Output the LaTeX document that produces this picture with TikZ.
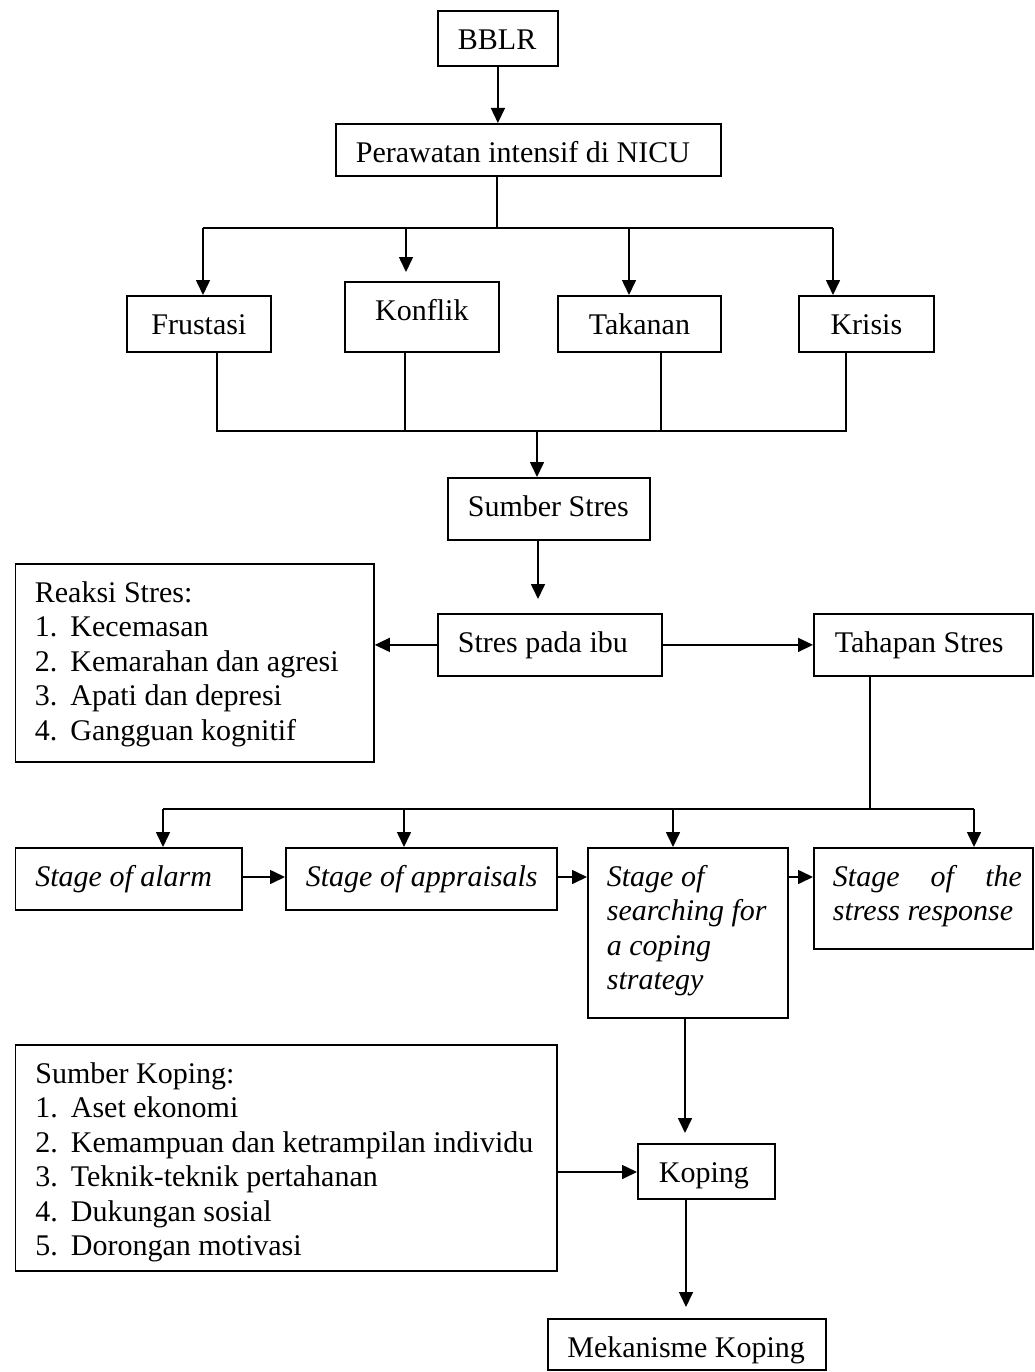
\documentclass[tikz,border=0pt]{standalone}
\usepackage{fontspec}
\setmainfont{Liberation Serif}
\usetikzlibrary{arrows.meta}
\setlength{\parindent}{0pt}
\newcommand{\bt}[4]{\begin{minipage}[t][#2][t]{#1}\setlength{\parindent}{0pt}\leftskip=#3\relax\rightskip=0pt plus 1fil\relax\rule{0pt}{38.5pt}#4\end{minipage}}
\newcommand{\bc}[3]{\begin{minipage}[t][#2][t]{#1}\setlength{\parindent}{0pt}\centering\rule{0pt}{38.5pt}#3\end{minipage}}
\newcommand{\itm}[1]{\makebox[35.5pt][l]{#1}}
\tikzset{
  box/.style={draw, line width=1.8pt, inner sep=0pt, anchor=north west},
  ln/.style={line width=1.6pt},
  arr/.style={line width=1.6pt, -{Triangle[length=15pt,width=14pt]}}
}
\begin{document}
\begin{tikzpicture}[x=1pt,y=-1pt,font=\fontsize{30}{34.5}\selectfont]
\useasboundingbox (0,0) rectangle (1034,1372);
% boxes
\node[box] (BBLR) at (437,10) {\bt{120pt}{55pt}{20pt}{BBLR}};
\node[box] (Per) at (335,123) {\bt{385pt}{52pt}{20pt}{Perawatan intensif di NICU}};
\node[box] (Fru) at (126,295) {\bc{144pt}{56pt}{Frustasi}};
\node[box] (Kon) at (344,281) {\bc{154pt}{70pt}{Konflik}};
\node[box] (Tak) at (557,295) {\bc{163pt}{56pt}{Takanan}};
\node[box] (Kri) at (798,295) {\bc{135pt}{56pt}{Krisis}};
\node[box] (SS) at (447,477) {\bt{202pt}{62pt}{20pt}{Sumber Stres}};
\node[box] (Rea) at (14.5,563) {\bt{358.5pt}{198pt}{19.5pt}{Reaksi Stres:\\
  \itm{1.}Kecemasan\\
  \itm{2.}Kemarahan dan agresi\\
  \itm{3.}Apati dan depresi\\
  \itm{4.}Gangguan kognitif}};
\node[box] (Stres) at (437,613) {\bt{224pt}{62pt}{20pt}{Stres pada ibu}};
\node[box] (Tah) at (813,613) {\bt{219pt}{62pt}{21pt}{Tahapan Stres}};
\node[box] (Ala) at (14.5,847) {\bt{226.5pt}{62pt}{20pt}{\itshape Stage of alarm}};
\node[box] (App) at (285,847) {\bt{271pt}{62pt}{20pt}{\itshape Stage of appraisals}};
\node[box] (Sea) at (587,847) {\bt{200pt}{170pt}{19pt}{\itshape Stage of\\ searching for\\ a coping\\ strategy}};
\node[box] (Str) at (813,847) {\bt{219pt}{101pt}{19pt}{\itshape \makebox[189pt][s]{Stage of the}\\ stress response}};
\node[box] (SK) at (14.5,1044) {\bt{541.5pt}{226pt}{20pt}{Sumber Koping:\\
  \itm{1.}Aset ekonomi\\
  \itm{2.}Kemampuan dan ketrampilan individu\\
  \itm{3.}Teknik-teknik pertahanan\\
  \itm{4.}Dukungan sosial\\
  \itm{5.}Dorongan motivasi}};
\node[box] (Kop) at (637,1143) {\bt{137pt}{55pt}{21pt}{Koping}};
\node[box] (Mek) at (547,1318) {\bt{278pt}{51pt}{19.5pt}{Mekanisme Koping}};
% coordinates
\coordinate (s1) at (497,228);
\coordinate (h1L) at (203,228);
\coordinate (h1R) at (833,228);
\coordinate (k1) at (406,228);
\coordinate (k1tip) at (406,272);
\coordinate (t1) at (629,228);
\coordinate (b1) at (217,431);
\coordinate (b2) at (405,431);
\coordinate (b3) at (661,431);
\coordinate (b4) at (846,431);
\coordinate (b0) at (537,431);
\coordinate (ssx) at (538,599);
\coordinate (t2) at (870,809);
\coordinate (h2L) at (163,809);
\coordinate (h2a) at (404,809);
\coordinate (h2b) at (673,809);
\coordinate (h2R) at (974,809);
\coordinate (ay) at (0,877);
\coordinate (kx) at (685,1133);
\coordinate (sky) at (0,1172);
\coordinate (mx) at (686,1307);
% connectors
\draw[arr] (BBLR.south) -- (BBLR.south |- Per.north);
\draw[ln] (s1 |- Per.south) -- (s1);
\draw[ln] (h1L) -- (h1R);
\draw[arr] (h1L) -- (h1L |- Fru.north);
\draw[arr] (k1) -- (k1tip);
\draw[arr] (t1) -- (t1 |- Tak.north);
\draw[arr] (h1R) -- (h1R |- Kri.north);
\draw[ln] (b1 |- Fru.south) -- (b1) -- (b4) -- (b4 |- Kri.south);
\draw[ln] (b2 |- Kon.south) -- (b2);
\draw[ln] (b3 |- Tak.south) -- (b3);
\draw[arr] (b0) -- (b0 |- SS.north);
\draw[arr] (ssx |- SS.south) -- (ssx);
\draw[arr] (Stres.west) -- (Stres.west -| Rea.east);
\draw[arr] (Stres.east) -- (Tah.west);
\draw[ln] (t2 |- Tah.south) -- (t2);
\draw[ln] (h2L) -- (h2R);
\draw[arr] (h2L) -- (h2L |- Ala.north);
\draw[arr] (h2a) -- (h2a |- App.north);
\draw[arr] (h2b) -- (h2b |- Sea.north);
\draw[arr] (h2R) -- (h2R |- Str.north);
\draw[arr] (Ala.east |- ay) -- (App.west |- ay);
\draw[arr] (App.east |- ay) -- (Sea.west |- ay);
\draw[arr] (Sea.east |- ay) -- (Str.west |- ay);
\draw[arr] (kx |- Sea.south) -- (kx);
\draw[arr] (SK.east |- sky) -- (Kop.west |- sky);
\draw[arr] (mx |- Kop.south) -- (mx);
\end{tikzpicture}
\end{document}
